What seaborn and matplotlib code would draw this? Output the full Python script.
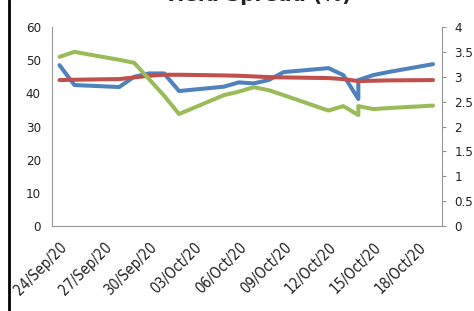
import matplotlib
matplotlib.use("Agg")
import matplotlib.pyplot as plt
from matplotlib.lines import Line2D
from matplotlib.ticker import FuncFormatter
import seaborn as sns
import pandas as pd

dates = ["2020-09-24", "2020-09-25", "2020-09-28", "2020-09-29", "2020-09-30",
         "2020-10-01", "2020-10-02", "2020-10-05", "2020-10-06", "2020-10-07",
         "2020-10-08", "2020-10-09", "2020-10-12", "2020-10-13", "2020-10-14",
         "2020-10-14", "2020-10-15", "2020-10-16", "2020-10-19"]
blue_vals = [48.5, 42.5, 41.9, 45.0, 46.0, 46.0, 40.7, 42.0, 43.3, 43.0,
             44.0, 46.4, 47.6, 45.5, 38.3, 44.0, 45.5, 46.4, 48.8]
red_vals = [44.0, 44.1, 44.3, 44.8, 45.3, 45.6, 45.6, 45.4, 45.3, 45.1,
            44.9, 44.8, 44.6, 44.3, 43.7, 43.7, 43.8, 43.9, 44.0]
green_vals = [3.40, 3.50, 3.34, 3.28, 2.95, 2.62, 2.25, 2.63, 2.70, 2.79,
              2.73, 2.63, 2.32, 2.41, 2.23, 2.41, 2.35, 2.37, 2.42]
tick_labels = ["24/Sep/20", "27/Sep/20", "30/Sep/20", "03/Oct/20", "06/Oct/20",
               "09/Oct/20", "12/Oct/20", "15/Oct/20", "18/Oct/20"]
title = "Yield Spread (%)"

sns.set_theme(style="white")
plt.rcParams['font.family'] = ['DejaVu Sans']
plt.rcParams['font.stretch'] = 'condensed'

d = pd.to_datetime(pd.Series(dates))
start = d.iloc[0]
days = (d - start).dt.days
df = pd.DataFrame({"day": days, "blue": blue_vals, "red": red_vals, "green": green_vals})
tick_pos = [(pd.to_datetime(t, format="%d/%b/%y") - start).days for t in tick_labels]

fig = plt.figure(figsize=(4.74, 3.11), dpi=100)
ax = fig.add_axes([52/474, 1-226/311, (442-52)/474, (226-27)/311])
ax2 = ax.twinx()

sns.lineplot(data=df, x="day", y="blue", ax=ax, color="#4F81BD", lw=2.9,
             estimator=None, sort=False)
sns.lineplot(data=df, x="day", y="red", ax=ax, color="#C0504D", lw=2.9,
             estimator=None, sort=False)
sns.lineplot(data=df, x="day", y="green", ax=ax2, color="#9BBB59", lw=2.9,
             estimator=None, sort=False)

ax.set_xlim(-0.5, 25.6)
ax.set_ylim(0, 60)
ax2.set_ylim(0, 4)
ax.set_yticks(range(0, 61, 10))
ax2.set_yticks([i * 0.5 for i in range(9)])
ax2.yaxis.set_major_formatter(FuncFormatter(lambda v, p: f"{v:g}"))
ax.set_xticks(tick_pos)
ax.set_xticklabels(tick_labels, rotation=45, ha="right", rotation_mode="anchor")
ax.set_xlabel("")
ax.set_ylabel("")
ax2.set_ylabel("")

for a in (ax, ax2):
    for s in a.spines.values():
        s.set_visible(False)
ax.spines["left"].set_visible(True)
ax.spines["bottom"].set_visible(True)
ax2.spines["right"].set_visible(True)
for s in (ax.spines["left"], ax.spines["bottom"], ax2.spines["right"]):
    s.set_color("#969696")
    s.set_linewidth(0.8)

ax.tick_params(axis="y", length=0, labelsize=9.5, pad=8, labelcolor="#222222")
ax.tick_params(axis="x", length=0, labelsize=10.5, pad=10, labelcolor="#222222")
ax2.tick_params(axis="y", length=3, width=0.8, color="#969696", labelsize=9.5,
                pad=6, labelcolor="#222222", direction="out")
ax.grid(False)
ax2.grid(False)

fig.text(0.542, 1 - 1/311, title, ha="center", va="baseline", fontsize=16,
         fontweight="bold", color="#222222")
fig.add_artist(Line2D([9/474, 9/474], [0, 1], color="black", lw=2))

fig.savefig("out.png", dpi=100)
